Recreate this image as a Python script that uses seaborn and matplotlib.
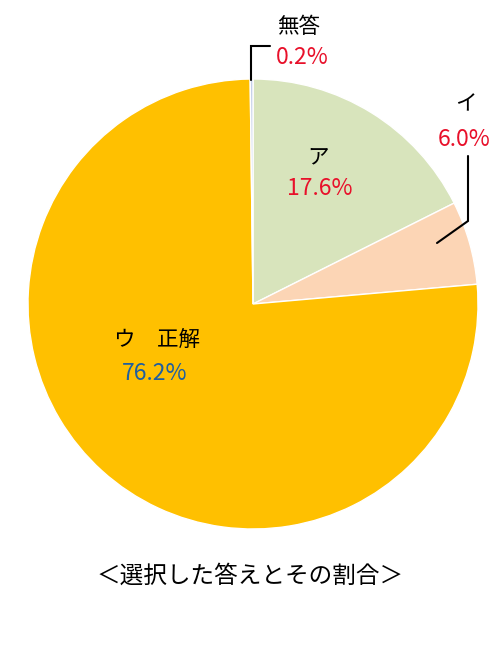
import matplotlib.pyplot as plt
import seaborn as sns

# データ
labels = ["ア", "イ", "ウ　正解", "無答"]
values = [17.6, 6.0, 76.2, 0.2]
colors = ["#d8e4bc", "#fcd5b5", "#ffc000", "#c5d0ea"]
value_colors = ["#e8102a", "#e8102a", "#1f5fa0", "#e8102a"]
title = "＜選択した答えとその割合＞"

sns.set_theme(style="white")
plt.rcParams["font.family"] = ["Noto Sans CJK JP", "DejaVu Sans"]

fig = plt.figure(figsize=(5, 6.6), dpi=100)
ax = fig.add_axes([0, 0, 1, 1])

ax.pie(values, colors=colors, startangle=90, counterclock=False, radius=1.0,
       wedgeprops=dict(edgecolor="white", linewidth=1))

# 1単位 = 225px になるように (pie の後で設定)
ax.set_aspect("auto")
ax.set_xlim(-253 / 225, 247 / 225)
ax.set_ylim(-356 / 225, 304 / 225)
ax.axis("off")


def px(x, y):
    return (x - 253) / 225, (304 - y) / 225


# ラベル位置 (ピクセル)
name_pos = [(318, 157), (466, 104), (157, 340), (299, 27)]
val_pos = [(320, 188), (464, 140), (155, 373), (302, 57)]

for lab, v, c, npos, vpos in zip(labels, values, value_colors, name_pos, val_pos):
    ax.text(*px(*npos), lab, ha="center", va="center", fontsize=15.5, color="black")
    ax.text(*px(*vpos), f"{v:.1f}%", ha="center", va="center", fontsize=16.5, color=c)

# 引き出し線
l1 = [px(251, 80), px(251, 46), px(270, 46)]
ax.plot([p[0] for p in l1], [p[1] for p in l1], color="black", lw=1.5, solid_joinstyle="miter")
l2 = [px(437, 243), px(468, 221), px(468, 156)]
ax.plot([p[0] for p in l2], [p[1] for p in l2], color="black", lw=1.5, solid_joinstyle="miter")

ax.text(*px(250, 576), title, ha="center", va="center", fontsize=17, color="black")

fig.savefig("out.png", dpi=100)
